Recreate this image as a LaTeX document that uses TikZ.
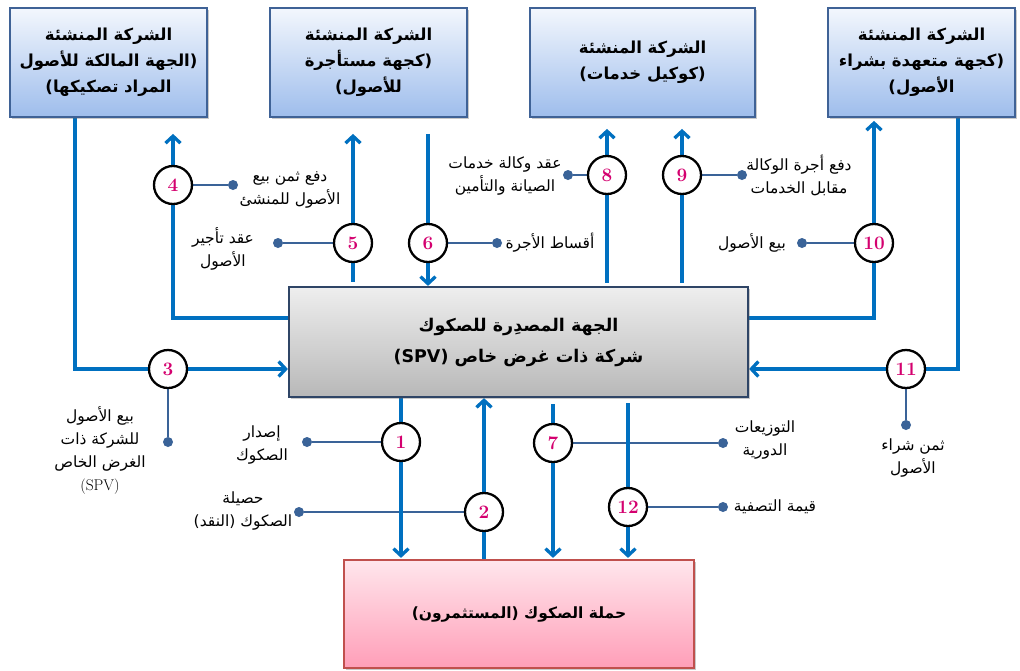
\documentclass[tikz,border=0pt]{standalone}
\usepackage{fontspec}
\usetikzlibrary{arrows.meta,shadows,backgrounds,calc}
\TeXXeTstate=1
\newfontfamily\arabicfont[Script=Arabic]{DejaVu Sans}
\newcommand\artx[1]{{\arabicfont\beginR #1\endR}}
\definecolor{flowblue}{HTML}{0070C0}
\definecolor{callblue}{HTML}{3A6398}
\definecolor{numpink}{HTML}{D4006F}
\definecolor{topborder}{HTML}{3F6296}
\definecolor{topA}{HTML}{F3F7FD}
\definecolor{topB}{HTML}{9EBDEC}
\definecolor{spvA}{HTML}{EEEEEE}
\definecolor{spvB}{HTML}{B8B8B8}
\definecolor{spvborder}{HTML}{2F4566}
\definecolor{invA}{HTML}{FFE6EC}
\definecolor{invB}{HTML}{FF9EB8}
\definecolor{invborder}{HTML}{C0504D}
\tikzset{
  flow/.style={draw=flowblue, line width=3.3pt},
  arr/.style={-{Straight Barb[length=7pt,width=15pt]}},
  call/.style={draw=callblue, line width=2.2pt},
  dotnode/.style={circle, fill=callblue, inner sep=0pt, minimum size=10pt},
  num/.style={circle, draw=black, line width=2.3pt, fill=white, minimum size=38pt, inner sep=0pt,
    font=\fontsize{19}{19}\selectfont\bfseries, text=numpink},
  boxshadow/.style={drop shadow={shadow xshift=1.5pt, shadow yshift=-2pt, opacity=.35, fill=black!60}},
  topbox/.style={rectangle, draw=topborder, line width=1.8pt, top color=topA, bottom color=topB,
    minimum height=109pt, inner sep=0pt, align=center, boxshadow,
    font=\fontsize{16.5}{26}\selectfont\bfseries},
  spvbox/.style={rectangle, draw=spvborder, line width=2.2pt, top color=spvA, bottom color=spvB,
    minimum width=459pt, minimum height=110pt, inner sep=0pt, align=center, boxshadow,
    font=\fontsize{17.5}{31}\selectfont\bfseries},
  invbox/.style={rectangle, draw=invborder, line width=2.2pt, top color=invA, bottom color=invB,
    minimum width=350pt, minimum height=108pt, inner sep=0pt, align=center, boxshadow,
    font=\fontsize{15.5}{30}\selectfont\bfseries},
  lbl/.style={align=center, inner sep=0pt, font=\fontsize{15.5}{23}\selectfont}
}
\begin{document}
\begin{tikzpicture}[x=1pt, y=-1pt]
\useasboundingbox (0,0) rectangle (1020,670);

% boxes
\node[topbox, minimum width=197pt] (A) at (108.5,62.5)
  {\artx{الشركة المنشئة}\\\artx{(الجهة المالكة للأصول}\\\artx{المراد تصكيكها)}};
\node[topbox, minimum width=197pt] (B) at (368.5,62.5)
  {\artx{الشركة المنشئة}\\\artx{(كجهة مستأجرة}\\\artx{للأصول)}};
\node[topbox, minimum width=225pt] (C) at (642.5,62.5)
  {\artx{الشركة المنشئة}\\\artx{(كوكيل خدمات)}};
\node[topbox, minimum width=187pt] (D) at (921.5,62.5)
  {\artx{الشركة المنشئة}\\\artx{(كجهة متعهدة  بشراء}\\\artx{الأصول)}};
\node[spvbox] (spv) at (518.5,342)
  {\artx{الجهة المصدِرة للصكوك}\\\artx{شركة ذات غرض خاص \beginL(SPV)\endL}};
\node[invbox] (inv) at (519,614)
  {\artx{حملة الصكوك (المستثمرون)}};

% bend points
\coordinate (k3) at (75,369);
\coordinate (k4) at (173,318);
\coordinate (k10) at (874,318);
\coordinate (k11) at (958,369);

% numbered circles
\node[num] (c1) at (401,442) {1};
\node[num] (c2) at (484,512) {2};
\node[num] (c3) at (168,369) {3};
\node[num] (c4) at (173,185) {4};
\node[num] (c5) at (353,243) {5};
\node[num] (c6) at (428,243) {6};
\node[num] (c7) at (553,443) {7};
\node[num] (c8) at (607,175) {8};
\node[num] (c9) at (682,175) {9};
\node[num] (c10) at (874,243) {10};
\node[num] (c11) at (906,369) {11};
\node[num] (c12) at (628,507) {12};

% dots
\node[dotnode] (d1) at (307,442) {};
\node[dotnode] (d2) at (299,512) {};
\node[dotnode] (d3) at (168,442) {};
\node[dotnode] (d4) at (233,185) {};
\node[dotnode] (d5) at (278,243) {};
\node[dotnode] (d6) at (497,243) {};
\node[dotnode] (d7) at (723,443) {};
\node[dotnode] (d8) at (568,175) {};
\node[dotnode] (d9) at (742,175) {};
\node[dotnode] (d10) at (802,243) {};
\node[dotnode] (d11) at (906,425) {};
\node[dotnode] (d12) at (723,507) {};

% labels
\node[lbl] (l1) at (262,445) {\artx{إصدار}\\\artx{الصكوك}};
\node[lbl] (l2) at (243,511) {\artx{حصيلة}\\\artx{الصكوك (النقد)}};
\node[lbl] (l3) at (100,451) {\artx{بيع الأصول}\\\artx{للشركة ذات}\\\artx{الغرض الخاص}\\\beginL(SPV)\endL};
\node[lbl] (l4) at (290,190) {\artx{دفع ثمن بيع}\\\artx{الأصول للمنشئ}};
\node[lbl] (l5) at (223,249) {\artx{عقد تأجير}\\\artx{الأصول}};
\node[lbl] (l6) at (550,243) {\artx{أقساط الأجرة}};
\node[lbl] (l7) at (765,440) {\artx{التوزيعات}\\\artx{الدورية}};
\node[lbl] (l8) at (505,176) {\artx{عقد وكالة خدمات}\\\artx{الصيانة  والتأمين}};
\node[lbl] (l9) at (799,175) {\artx{دفع  أجرة  الوكالة}\\\artx{مقابل الخدمات}};
\node[lbl] (l10) at (752,243) {\artx{بيع الأصول}};
\node[lbl] (l11) at (913,458) {\artx{ثمن شراء}\\\artx{الأصول}};
\node[lbl] (l12) at (775,507) {\artx{قيمة التصفية}};

\begin{pgfonlayer}{background}
\fill[white] (0,0) rectangle (1020,670);
% callout connectors
\foreach \i in {1,...,12} { \draw[call] (c\i.center) -- (d\i); }
% flows
\draw[flow,arr] (A.south -| k3) -- (k3) -- (spv.west |- k3);
\draw[flow,arr,shorten >=16pt] (spv.west |- k4) -- (k4) -- (A.south -| k4);
\draw[flow,arr,shorten >=16pt,shorten <=4pt] (spv.north -| c5) -- (B.south -| c5);
\draw[flow,arr,shorten <=16pt] (B.south -| c6) -- (spv.north -| c6);
\draw[flow,arr,shorten >=11pt,shorten <=3pt] (spv.north -| c8) -- (C.south -| c8);
\draw[flow,arr,shorten >=11pt,shorten <=3pt] (spv.north -| c9) -- (C.south -| c9);
\draw[flow,arr,shorten >=3pt] (spv.east |- k10) -- (k10) -- (D.south -| k10);
\draw[flow,arr] (D.south -| k11) -- (k11) -- (spv.east |- k11);
\draw[flow,arr,shorten >=1pt] (spv.south -| c1) -- (inv.north -| c1);
\draw[flow,arr] (inv.north -| c2) -- (spv.south -| c2);
\draw[flow,arr,shorten >=1pt,shorten <=6pt] (spv.south -| c7) -- (inv.north -| c7);
\draw[flow,arr,shorten >=1pt,shorten <=5pt] (spv.south -| c12) -- (inv.north -| c12);
\end{pgfonlayer}
\end{tikzpicture}
\end{document}
